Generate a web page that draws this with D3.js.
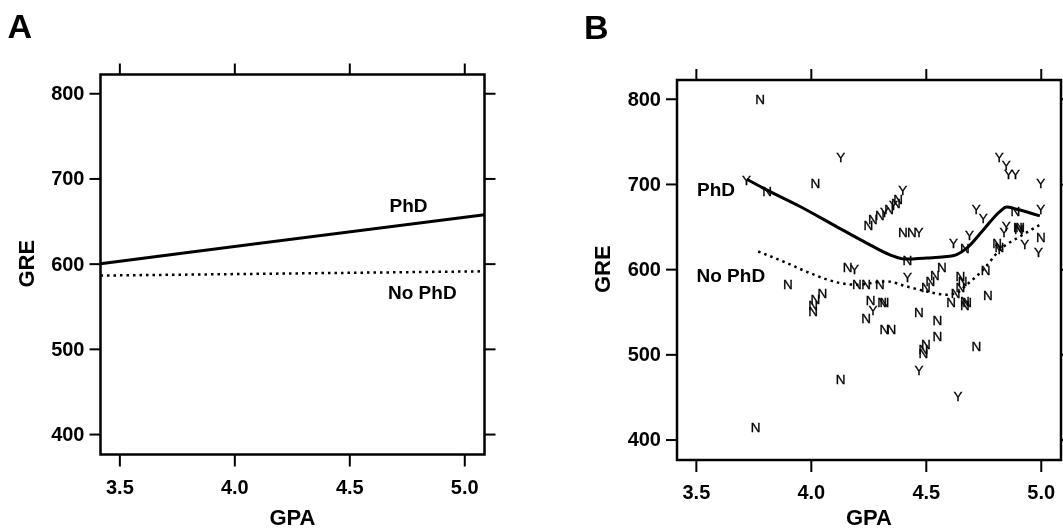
<!DOCTYPE html>
<html>
<head>
<meta charset="utf-8">
<script src="https://cdn.jsdelivr.net/npm/d3@7"></script>
<style>
  body { margin: 0; background: #fff; }
  svg { display: block; will-change: transform; }
  text { font-family: "Liberation Sans", Arial, Helvetica, sans-serif; fill: #000; }
</style>
</head>
<body>
<svg id="chart"></svg>
<script>
// axis ticks shared by both panels
const gpaTicks = [3.5, 4.0, 4.5, 5.0];
const greTicks = [400, 500, 600, 700, 800];
const gpaDomain = [3.418, 5.088];
const greDomain = [376, 822];

// panel A: linear fits
const fitGpa = [3.418, 5.088];
const fitPhd = [600, 657.5];
const fitNoPhd = [586, 591];

// panel B: smoothed curves
const smoothPhdGpa = [3.721, 3.808, 3.953, 4.098, 4.243, 4.344, 4.409, 4.504, 4.619, 4.678, 4.75, 4.822, 4.851, 4.895, 4.996];
const smoothPhdGre = [705.6, 693, 673.5, 652, 630.6, 616.8, 611.8, 613, 615.7, 624.7, 646, 667.6, 672.8, 670.4, 662.6];
const smoothNoGpa = [3.771, 3.88, 3.996, 4.127, 4.199, 4.33, 4.417, 4.504, 4.59, 4.634, 4.678, 4.75, 4.822, 4.909, 4.996];
const smoothNoGre = [620.7, 609, 595.4, 583.7, 581.7, 585.6, 579.7, 573.8, 570, 572, 581.7, 599.3, 622.7, 638.3, 652];

// panel B: individual students (Y = got PhD, N = no PhD)
const studentGpa = [4.13, 3.72, 3.81, 4.02, 4.25, 4.27, 4.30, 4.32, 4.34, 4.36, 4.37, 4.38, 4.40,
  4.40, 4.44, 4.47, 4.42, 4.42, 4.16, 4.19, 3.90, 4.05, 4.02, 4.01, 4.01, 4.20, 4.24, 4.30,
  4.26, 4.31, 4.32, 4.27, 4.24, 4.32, 4.35, 4.47, 4.57, 4.54, 4.52, 4.50, 4.65, 4.66, 4.65,
  4.63, 4.61, 4.67, 4.68, 4.67, 4.76, 4.77, 4.82, 4.85, 4.86, 4.89, 5.00, 4.72, 4.75, 4.89,
  5.00, 4.85, 4.84, 4.90, 4.91, 4.905, 5.00, 4.99, 4.93, 4.81, 4.82, 4.82, 4.62, 4.69, 4.67,
  4.55, 4.55, 4.50, 4.49, 4.49, 4.47, 4.64, 4.72, 4.13, 3.76, 3.78];
const studentGre = [731, 705, 691, 701, 652, 659, 663, 667, 670, 675, 678, 682, 693,
  643, 643, 643, 611, 591, 602, 600, 582, 572, 565, 558, 551, 582, 582, 582,
  564, 561, 561, 552, 543, 530, 530, 550, 602, 593, 586, 579, 592, 586, 579,
  572, 561, 562, 561, 558, 599, 569, 732, 722, 711, 711, 701, 670, 660, 668,
  670, 651, 643, 649, 649, 647, 638, 620, 629, 630, 626, 623, 630, 640, 625,
  540, 521, 512, 506, 501, 481, 451, 510, 471, 414, 800];
const studentPhd = ['Y', 'Y', 'N', 'N', 'N', 'N', 'N', 'Y', 'N', 'Y', 'N', 'N', 'Y',
  'N', 'N', 'Y', 'N', 'Y', 'N', 'Y', 'N', 'N', 'N', 'N', 'N', 'N', 'N', 'N',
  'N', 'N', 'N', 'Y', 'N', 'N', 'N', 'N', 'N', 'N', 'N', 'N', 'N', 'N', 'N',
  'N', 'N', 'N', 'N', 'N', 'N', 'N', 'Y', 'Y', 'Y', 'Y', 'Y', 'Y', 'Y', 'N',
  'Y', 'Y', 'Y', 'N', 'N', 'N', 'N', 'Y', 'Y', 'N', 'N', 'Y', 'Y', 'Y', 'N',
  'N', 'N', 'N', 'N', 'N', 'Y', 'Y', 'N', 'N', 'N', 'N'];

const width = 1063;
const height = 529;
const plotW = 384;
const plotH = 380;

const svg = d3.select('#chart')
  .attr('width', width)
  .attr('height', height);

const x = d3.scaleLinear().domain(gpaDomain).range([0, plotW]);
const y = d3.scaleLinear().domain(greDomain).range([plotH, 0]);

const line = d3.line()
  .x(d => x(d[0]))
  .y(d => y(d[1]));

function drawFrame(g, letter, letterX, letterY, titleX, titleY) {
  // ticks on all four sides
  g.append('g')
    .attr('transform', `translate(0, ${plotH})`)
    .call(d3.axisBottom(x).tickValues(gpaTicks).tickFormat(d3.format('.1f'))
      .tickSize(12).tickPadding(13).tickSizeOuter(0));
  g.append('g')
    .call(d3.axisTop(x).tickValues(gpaTicks).tickFormat('').tickSize(11).tickSizeOuter(0));
  g.append('g')
    .call(d3.axisLeft(y).tickValues(greTicks).tickFormat(d3.format('d'))
      .tickSize(11).tickPadding(5).tickSizeOuter(0));
  g.append('g')
    .attr('transform', `translate(${plotW}, 0)`)
    .call(d3.axisRight(y).tickValues(greTicks).tickFormat('').tickSize(11).tickSizeOuter(0));

  g.selectAll('.domain').remove();
  g.selectAll('.tick line').attr('stroke', '#000').attr('stroke-width', 2);
  g.selectAll('.tick text')
    .attr('font-size', 20)
    .attr('font-weight', 'bold')
    .attr('font-family', '"Liberation Sans", Arial, sans-serif')
    .attr('fill', '#000');

  g.append('rect')
    .attr('width', plotW)
    .attr('height', plotH)
    .attr('fill', 'none')
    .attr('stroke', '#000')
    .attr('stroke-width', 2.5);

  // axis titles
  g.append('text')
    .attr('x', plotW / 2)
    .attr('y', plotH + titleY)
    .attr('text-anchor', 'middle')
    .attr('font-size', 22)
    .attr('font-weight', 'bold')
    .text('GPA');
  g.append('text')
    .attr('transform', `translate(${titleX}, ${y(600)}) rotate(-90)`)
    .attr('text-anchor', 'middle')
    .attr('font-size', 22)
    .attr('font-weight', 'bold')
    .text('GRE');

  // panel letter
  g.append('text')
    .attr('x', letterX)
    .attr('y', letterY)
    .attr('font-size', 34)
    .attr('font-weight', 'bold')
    .text(letter);
}

function drawLabels(g, phdPos, noPos) {
  g.append('text')
    .attr('x', phdPos[0]).attr('y', phdPos[1])
    .attr('font-size', 19).attr('font-weight', 'bold')
    .text('PhD');
  g.append('text')
    .attr('x', noPos[0]).attr('y', noPos[1])
    .attr('font-size', 19).attr('font-weight', 'bold')
    .text('No PhD');
}

// Panel A
const panelA = svg.append('g').attr('transform', 'translate(100.5, 74.5)');
drawFrame(panelA, 'A', -93, -37, -67, 70);

panelA.append('path')
  .datum(fitGpa.map((v, i) => [v, fitPhd[i]]))
  .attr('d', line)
  .attr('fill', 'none')
  .attr('stroke', '#000')
  .attr('stroke-width', 3);

panelA.append('path')
  .datum(fitGpa.map((v, i) => [v, fitNoPhd[i]]))
  .attr('d', line)
  .attr('fill', 'none')
  .attr('stroke', '#000')
  .attr('stroke-width', 2.5)
  .attr('stroke-dasharray', '2.5,4');

drawLabels(panelA, [289, 137.5], [287.5, 224]);

// Panel B
const panelB = svg.append('g').attr('transform', 'translate(677, 80)');
drawFrame(panelB, 'B', -93, -41, -67, 65);

panelB.append('path')
  .datum(smoothPhdGpa.map((v, i) => [v, smoothPhdGre[i]]))
  .attr('d', line.curve(d3.curveMonotoneX))
  .attr('fill', 'none')
  .attr('stroke', '#000')
  .attr('stroke-width', 3);

panelB.append('path')
  .datum(smoothNoGpa.map((v, i) => [v, smoothNoGre[i]]))
  .attr('d', line.curve(d3.curveMonotoneX))
  .attr('fill', 'none')
  .attr('stroke', '#000')
  .attr('stroke-width', 2.5)
  .attr('stroke-dasharray', '2.5,4');

panelB.selectAll('.student')
  .data(studentGpa.map((v, i) => ({ gpa: v, gre: studentGre[i], phd: studentPhd[i] })))
  .enter()
  .append('text')
  .attr('class', 'student')
  .attr('x', d => x(d.gpa))
  .attr('y', d => y(d.gre))
  .attr('dy', '0.36em')
  .attr('text-anchor', 'middle')
  .attr('font-size', 13.5)
  .attr('fill', '#000')
  .attr('stroke', '#000')
  .attr('stroke-width', 0.35)
  .text(d => d.phd);

drawLabels(panelB, [20, 116], [19.5, 202]);
</script>
</body>
</html>
